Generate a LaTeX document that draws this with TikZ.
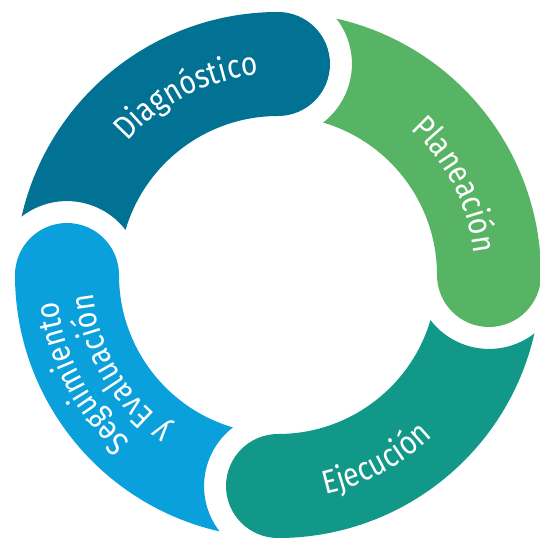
\documentclass[tikz,border=0pt]{standalone}
\usepackage{fontspec}
\setmainfont{Fira Sans}
\newfontfamily\phasefont[FakeStretch=0.86]{Fira Sans}
\usetikzlibrary{decorations.text}

\definecolor{diagblue}{RGB}{2,114,148}
\definecolor{planegreen}{RGB}{88,180,101}
\definecolor{ejecteal}{RGB}{18,152,136}
\definecolor{segblue}{RGB}{9,160,219}

\begin{document}
\begin{tikzpicture}[x=1pt,y=1pt,
    phasetext/.style={decorate, decoration={text along path, text align=center,
        text color=white, text={|\phasefont\fontsize{33}{33}\selectfont|#1}}}]

    % Define ring dimensions
    \def\rout{263}    % Outer radius
    \def\rin{159}     % Inner radius
    \def\rcap{52}     % Radius of the round end of a phase
    \def\rcut{74}     % Cut round the round end of the previous phase
    \def\cutout{12.83} % where the cut meets the outer circle
    \def\cutin{16.48}  % where the cut meets the inner circle
    \def\cuta{142.39}
    \def\cutb{52.13}

    \useasboundingbox (-278,-263) rectangle (262,275);

    % Diagnostico (left to top)
    \fill[diagblue] ({180-\cutout}:\rout) arc[start angle=180-\cutout, end angle=90, radius=\rout]
        arc[start angle=90, end angle=-90, radius=\rcap]
        arc[start angle=90, end angle=180-\cutin, radius=\rin]
        arc[start angle=180-\cuta, end angle=180-\cutb, radius=\rcut] -- cycle;

    % Planeacion (top to right)
    \fill[planegreen] ({90-\cutout}:\rout) arc[start angle=90-\cutout, end angle=0, radius=\rout]
        arc[start angle=0, end angle=-180, radius=\rcap]
        arc[start angle=0, end angle=90-\cutin, radius=\rin]
        arc[start angle=90-\cuta, end angle=90-\cutb, radius=\rcut] -- cycle;

    % Ejecucion (right to bottom)
    \fill[ejecteal] ({-\cutout}:\rout) arc[start angle=-\cutout, end angle=-90, radius=\rout]
        arc[start angle=-90, end angle=-270, radius=\rcap]
        arc[start angle=-90, end angle=-\cutin, radius=\rin]
        arc[start angle=-\cuta, end angle=-\cutb, radius=\rcut] -- cycle;

    % Seguimiento y Evaluacion (bottom to left)
    \fill[segblue] ({270-\cutout}:\rout) arc[start angle=270-\cutout, end angle=180, radius=\rout]
        arc[start angle=180, end angle=0, radius=\rcap]
        arc[start angle=180, end angle=270-\cutin, radius=\rin]
        arc[start angle=270-\cuta, end angle=270-\cutb, radius=\rcut] -- cycle;

    % Labels along the ring
    \path[phasetext=Diagnóstico] (167:201) arc (167:67:201);
    \path[phasetext=Planeación] (77:197) arc (77:-23:197);
    \path[phasetext=Ejecución] (-112:224) arc (-112:-12:224);
    \path[phasetext=Seguimiento] (257.7:222) arc (257.7:157.7:222);
    \path[phasetext=y Evaluación] (260.5:186) arc (260.5:160.5:186);

\end{tikzpicture}
\end{document}
